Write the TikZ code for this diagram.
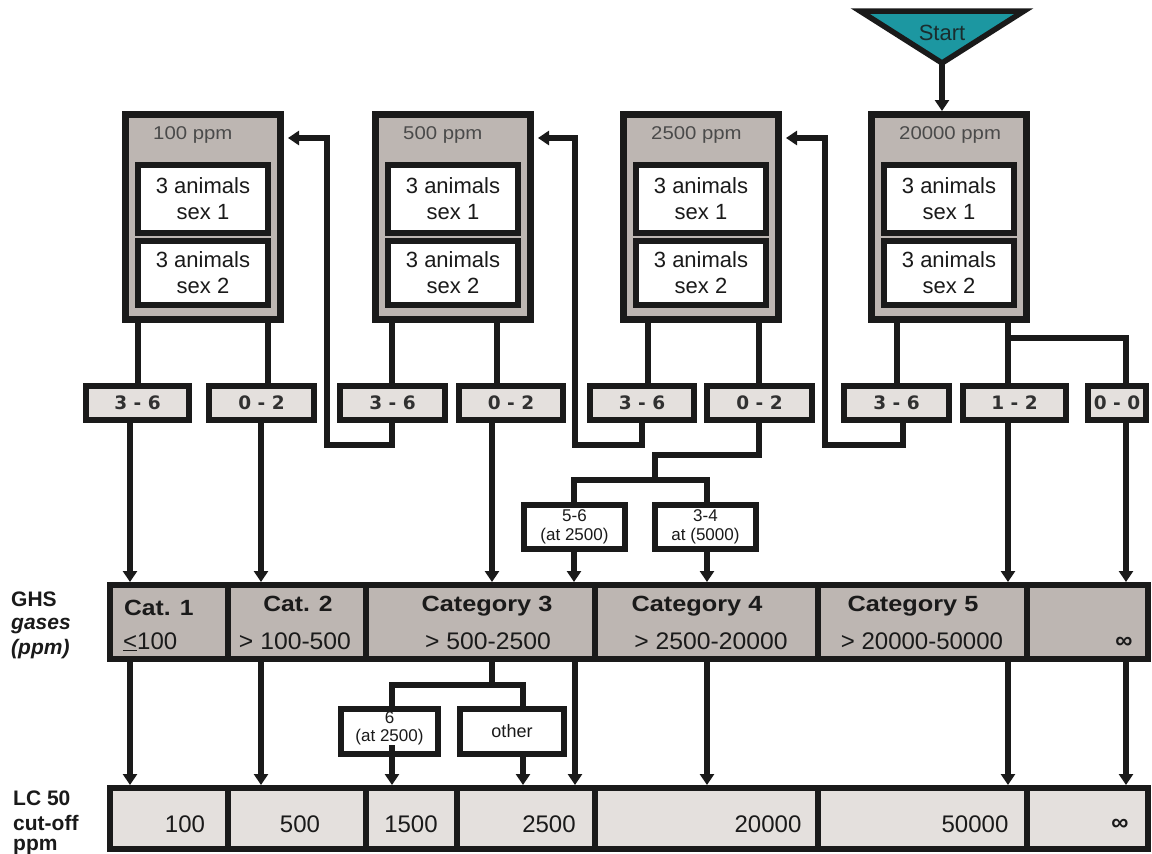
\documentclass[tikz,border=0pt]{standalone}
\usepackage{fontspec}
\setmainfont{Liberation Sans}
\newfontfamily\djv{DejaVu Sans}
\usetikzlibrary{arrows.meta,calc}
\definecolor{boxgray}{HTML}{BDB6B2}
\definecolor{paleg}{HTML}{E4E0DD}
\definecolor{tealx}{HTML}{1C97A1}
\definecolor{ink}{HTML}{1A1A1A}
\definecolor{ppmgray}{HTML}{4A4A4A}
\newcommand{\myfs}[2]{\fontsize{#1}{#2}\selectfont}
\begin{document}
\begin{tikzpicture}[x=1pt,y=-1pt,
  conn/.style={line width=5.2pt, draw=ink},
  arr/.style={conn, -{Triangle[length=11pt,width=14pt]}},
  topbox/.style={draw=ink, line width=7pt, fill=boxgray, minimum width=155pt, minimum height=205pt, inner sep=0pt},
  animal/.style={draw=ink, line width=6pt, fill=white, minimum width=130pt, inner sep=0pt, align=center, text=ink, font=\myfs{22}{26}},
  ppm/.style={inner sep=0pt, text=ppmgray, font=\myfs{18.5}{20}},
  rbox/.style={draw=ink, line width=6pt, fill=paleg, minimum height=34pt, inner sep=0pt, text=ink!90, font=\djv\bfseries\myfs{18.5}{18.5}},
  sbox/.style={draw=ink, line width=6pt, fill=white, inner sep=0pt, align=center, text=ink, font=\myfs{17}{19}},
  catcell/.style={draw=ink, line width=6pt, fill=boxgray, inner sep=0pt, minimum height=74pt},
  lccell/.style={draw=ink, line width=6pt, fill=paleg, inner sep=0pt, minimum height=61pt},
  t/.style={inner sep=0pt, text=ink},
  cattxt/.style={t, anchor=base, font=\bfseries\myfs{22}{22}},
  rngtxt/.style={t, anchor=base, font=\myfs{24}{24}},
  lctxt/.style={t, anchor=base, font=\myfs{24}{24}},
  side/.style={t, anchor=base west, font=\bfseries\myfs{21}{21}}
]
\useasboundingbox (0,0) rectangle (1152,854);

% start triangle
\draw[draw=ink, line width=5.5pt, fill=tealx] (860,11) -- (1024,11) -- (942,63) -- cycle;
\node[t, text=ink!85!tealx, font=\myfs{22}{22}, anchor=base] (start) at (942,40) {Start};
\coordinate (apex) at (942,64);

% top boxes
\foreach \i/\L/\p in {1/122/100,2/372/500,3/620/2500,4/868/20000}{
  \node[topbox] (b\i) at (\L+81,217) {};
  \node[ppm, anchor=base west] (p\i) at (\L+31,139.5) {\scalebox{1.1}[1]{\p\ ppm}};
  \node[animal, minimum height=68pt] (sA\i) at (\L+81,198.5) {3 animals\\sex 1};
  \node[animal, minimum height=64pt] (sB\i) at (\L+81,273) {3 animals\\sex 2};
}

% result boxes
\node[rbox, minimum width=103pt] (r1) at (137.5,403) {3 - 6};
\node[rbox, minimum width=105pt] (r2) at (261.5,403) {0 - 2};
\node[rbox, minimum width=105pt] (r3) at (392.5,403) {3 - 6};
\node[rbox, minimum width=104pt] (r4) at (511,403) {0 - 2};
\node[rbox, minimum width=104pt] (r5) at (642,403) {3 - 6};
\node[rbox, minimum width=105pt] (r6) at (759.5,403) {0 - 2};
\node[rbox, minimum width=105pt] (r7) at (896.5,403) {3 - 6};
\node[rbox, minimum width=103pt] (r8) at (1014.5,403) {1 - 2};
\node[rbox, minimum width=58pt] (r9) at (1117,403) {0 - 0};

% small boxes
\node[sbox, minimum width=101pt, minimum height=44pt] (s56) at (574.5,527) {5-6\\(at 2500)};
\node[sbox, minimum width=101pt, minimum height=44pt] (s34) at (705.5,527) {3-4\\at (5000)};
\node[sbox, minimum width=97pt, minimum height=45pt] (s6) at (389.5,731.5) {};
\node[t, align=center, font=\myfs{17}{18}] (s6t) at (389.5,728) {6\\(at 2500)};
\node[sbox, minimum width=104pt, minimum height=45pt, font=\myfs{18}{19}] (so) at (512,731.5) {other};

% category row
\node[catcell, minimum width=118pt] (cat1) at (169,622) {};
\node[catcell, minimum width=138pt] (cat2) at (297,622) {};
\node[catcell, minimum width=229pt] (cat3) at (480.5,622) {};
\node[catcell, minimum width=223pt] (cat4) at (706.5,622) {};
\node[catcell, minimum width=209pt] (cat5) at (922.5,622) {};
\node[catcell, minimum width=121pt] (cat6) at (1087.5,622) {};

\node[cattxt, anchor=base west] (k1) at (124,615) {\scalebox{1.12}[1]{Cat. 1}};
\node[rngtxt, anchor=base west] (g1) at (123,649) {\underline{<}100};
\node[cattxt] (k2) at (298,611) {\scalebox{1.12}[1]{Cat. 2}};
\node[rngtxt] (g2) at (295,649) {\scalebox{1.03}[1]{> 100-500}};
\node[cattxt] (k3) at (487,611) {\scalebox{1.15}[1]{Category 3}};
\node[rngtxt] (g3) at (488,649) {\scalebox{1.03}[1]{> 500-2500}};
\node[cattxt] (k4) at (697,611) {\scalebox{1.15}[1]{Category 4}};
\node[rngtxt] (g4) at (711,649) {\scalebox{1.03}[1]{> 2500-20000}};
\node[cattxt] (k5) at (913,611) {\scalebox{1.15}[1]{Category 5}};
\node[rngtxt] (g5) at (922,649) {\scalebox{1.0}[1]{> 20000-50000}};
\node[t, anchor=base, font=\bfseries\myfs{24}{24}] (g6) at (1124,648) {∞};

% LC row
\node[lccell, minimum width=118pt] (lc1) at (169,818.5) {};
\node[lccell, minimum width=138pt] (lc2) at (297,818.5) {};
\node[lccell, minimum width=91pt] (lc3) at (411.5,818.5) {};
\node[lccell, minimum width=138pt] (lc4) at (526,818.5) {};
\node[lccell, minimum width=223pt] (lc5) at (706.5,818.5) {};
\node[lccell, minimum width=209pt] (lc6) at (922.5,818.5) {};
\node[lccell, minimum width=121pt] (lc7) at (1087.5,818.5) {};
\node[lctxt] (n1) at (185,832) {100};
\node[lctxt] (n2) at (300,832) {500};
\node[lctxt] (n3) at (411,832) {1500};
\node[lctxt] (n4) at (549,832) {2500};
\node[lctxt] (n5) at (768,832) {20000};
\node[lctxt] (n6) at (975,832) {50000};
\node[t, anchor=base, font=\bfseries\myfs{24}{24}] (n7) at (1120,830) {∞};

% side labels
\node[side] (ghs) at (11,606) {GHS};
\node[side, font=\bfseries\itshape\myfs{21}{21}] (gas) at (11,629) {gases};
\node[side, font=\bfseries\itshape\myfs{21}{21}] (gpp) at (11,654) {(ppm)};
\node[side] (lc) at (13,805) {LC 50};
\node[side] (cut) at (13,830) {cut-off};
\node[side] (lpp) at (13,850) {ppm};

% x positions
\coordinate (t1) at (138,0);  \coordinate (t2) at (268,0);
\coordinate (t3) at (392,0);  \coordinate (t4) at (497,0);
\coordinate (t5) at (648,0);  \coordinate (t6) at (759,0);
\coordinate (t7) at (897,0);  \coordinate (t8) at (1008,0);
\coordinate (t9) at (1126,0);
\coordinate (c1) at (130,0);  \coordinate (c2) at (261,0);
\coordinate (c3) at (492,0);  \coordinate (c5) at (575,0);
\coordinate (d5) at (642,0);  \coordinate (d7) at (903,0);
\coordinate (e1) at (574,0);  \coordinate (e2) at (707,0);
\coordinate (k6) at (392,0);  \coordinate (ko) at (523,0);
\coordinate (h0) at (0,338);  \coordinate (h1) at (0,480);
\coordinate (h2) at (0,685);  \coordinate (yarr) at (0,138);
\coordinate (s6start) at (0,745);
\coordinate (L1) at (327,445); \coordinate (L2) at (575,445); \coordinate (L3) at (825,445);
\coordinate (M1) at (655,455);

% start arrow
\draw[arr] (apex) -- (b4.north -| apex);

% top boxes to results
\draw[conn] (b1.south -| t1) -- (r1.north -| t1);
\draw[conn] (b1.south -| t2) -- (r2.north -| t2);
\draw[conn] (b2.south -| t3) -- (r3.north -| t3);
\draw[conn] (b2.south -| t4) -- (r4.north -| t4);
\draw[conn] (b3.south -| t5) -- (r5.north -| t5);
\draw[conn] (b3.south -| t6) -- (r6.north -| t6);
\draw[conn] (b4.south -| t7) -- (r7.north -| t7);
\draw[conn] (b4.south -| t8) -- (r8.north -| t8);
\draw[conn] (t8 |- h0) -| (r9.north -| t9);

% loops back
\draw[arr, shorten >=4pt] (r3.south -| t3) |- (L1) |- (b1.east |- yarr);
\draw[arr, shorten >=4pt] (r5.south -| d5) |- (L2) |- (b2.east |- yarr);
\draw[arr, shorten >=4pt] (r7.south -| d7) |- (L3) |- (b3.east |- yarr);

% 0-2 of 2500 split
\draw[conn] (r6.south -| t6) |- (M1) -- (M1 |- h1);
\draw[conn] (s56.north -| e1) -- (e1 |- h1) -- (e2 |- h1) -- (s34.north -| e2);

% results to categories
\draw[arr] (r1.south -| c1) -- (cat1.north -| c1);
\draw[arr] (r2.south -| c2) -- (cat2.north -| c2);
\draw[arr] (r4.south -| c3) -- (cat3.north -| c3);
\draw[arr] (s56.south -| e1) -- (cat3.north -| e1);
\draw[arr] (s34.south -| e2) -- (cat4.north -| e2);
\draw[arr] (r8.south -| t8) -- (cat5.north -| t8);
\draw[arr] (r9.south -| t9) -- (cat6.north -| t9);

% categories to LC
\draw[arr] (cat1.south -| c1) -- (lc1.north -| c1);
\draw[arr] (cat2.south -| c2) -- (lc2.north -| c2);
\draw[conn] (cat3.south -| c3) -- (c3 |- h2);
\draw[conn] (s6.north -| k6) -- (k6 |- h2) -- (ko |- h2) -- (so.north -| ko);
\draw[arr] (k6 |- s6start) -- (lc3.north -| k6);
\draw[arr] (so.south -| ko) -- (lc4.north -| ko);
\draw[arr] (cat3.south -| c5) -- (lc4.north -| c5);
\draw[arr] (cat4.south -| e2) -- (lc5.north -| e2);
\draw[arr] (cat5.south -| t8) -- (lc6.north -| t8);
\draw[arr] (cat6.south -| t9) -- (lc7.north -| t9);
\end{tikzpicture}
\end{document}
